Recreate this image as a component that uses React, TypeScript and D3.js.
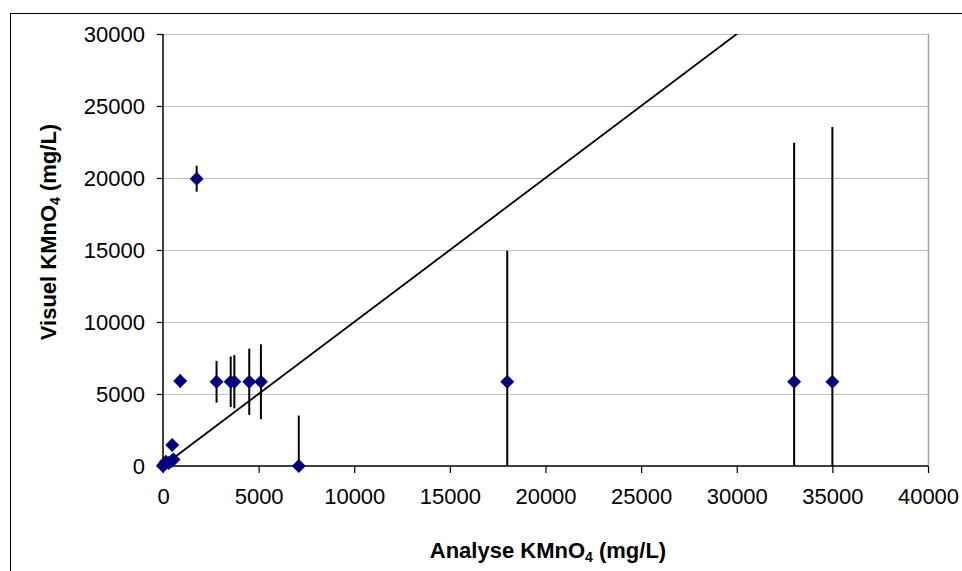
import React, { useEffect, useRef } from "react";
import * as d3 from "d3";

// Analyse (x) vs Visuel (y) KMnO4 values, with vertical error (± in mg/L)
const analyse = [0, 50, 150, 300, 450, 550, 480, 900, 1760, 2800, 3540, 3730, 4510, 5120, 7100, 18000, 33000, 35000];
const visuel = [0, 100, 300, 200, 350, 450, 1450, 5900, 19950, 5850, 5850, 5850, 5850, 5850, 0, 5850, 5850, 5850];
const erreur = [0, 0, 0, 0, 0, 0, 0, 450, 900, 1450, 1750, 1850, 2300, 2600, 3500, 9100, 16600, 17700];

const xTicks = [0, 5000, 10000, 15000, 20000, 25000, 30000, 35000, 40000];
const yTicks = [0, 5000, 10000, 15000, 20000, 25000, 30000];
const trend = [0, 40000]; // y = x

const App = () => {
  const ref = useRef<SVGSVGElement | null>(null);

  useEffect(() => {
    const width = 962;
    const height = 571;
    const margin = { top: 34, right: 34, bottom: 105, left: 163 };

    const svg = d3.select(ref.current);
    svg.selectAll("*").remove();

    const x = d3.scaleLinear().domain([0, 40000]).range([margin.left, width - margin.right]);
    const y = d3.scaleLinear().domain([0, 30000]).range([height - margin.bottom, margin.top]);

    // outer frame
    svg
      .append("rect")
      .attr("x", 10.5)
      .attr("y", 13.5)
      .attr("width", 960)
      .attr("height", 570)
      .attr("fill", "white")
      .attr("stroke", "black");

    svg
      .append("defs")
      .append("clipPath")
      .attr("id", "plot")
      .append("rect")
      .attr("x", margin.left)
      .attr("y", margin.top)
      .attr("width", x(40000) - margin.left)
      .attr("height", y(0) - margin.top);

    // gridlines
    svg
      .append("g")
      .selectAll("line")
      .data(yTicks.filter((d) => d > 0))
      .join("line")
      .attr("x1", margin.left)
      .attr("x2", x(40000))
      .attr("y1", (d) => Math.round(y(d)) + 0.5)
      .attr("y2", (d) => Math.round(y(d)) + 0.5)
      .attr("stroke", "#c0c0c0")
      .attr("stroke-width", 1);

    // right border of plot area
    svg
      .append("line")
      .attr("x1", Math.round(x(40000)) + 0.5)
      .attr("x2", Math.round(x(40000)) + 0.5)
      .attr("y1", margin.top)
      .attr("y2", y(0))
      .attr("stroke", "#a0a0a0")
      .attr("stroke-width", 1.5);

    const font = "'Liberation Sans', Arial, sans-serif";
    const fs = 22;

    // y axis
    const yAxis = svg
      .append("g")
      .attr("transform", `translate(${margin.left},0)`)
      .call(d3.axisLeft(y).tickValues(yTicks).tickSize(6).tickPadding(12).tickFormat((d) => `${d}`));
    yAxis.select(".domain").attr("stroke-width", 1.5).attr("d", `M0,${margin.top}V${y(0)}`);
    yAxis.selectAll(".tick line").attr("stroke-width", 1.2);
    yAxis.selectAll("text").attr("font-family", font).attr("font-size", fs).attr("fill", "black");

    // x axis
    const xAxis = svg
      .append("g")
      .attr("transform", `translate(0,${y(0)})`)
      .call(d3.axisBottom(x).tickValues(xTicks).tickSize(7).tickPadding(15).tickFormat((d) => `${d}`));
    xAxis.select(".domain").attr("stroke-width", 1.5).attr("d", `M${margin.left},0H${x(40000)}`);
    xAxis.selectAll(".tick line").attr("stroke-width", 1.2);
    xAxis.selectAll("text").attr("font-family", font).attr("font-size", fs).attr("fill", "black");

    const plot = svg.append("g").attr("clip-path", "url(#plot)");

    // trend line
    plot
      .append("line")
      .attr("x1", x(trend[0]))
      .attr("y1", y(trend[0]))
      .attr("x2", x(trend[1]))
      .attr("y2", y(trend[1]))
      .attr("stroke", "black")
      .attr("stroke-width", 1.8);

    const pts = analyse.map((a, i) => ({ a, v: visuel[i], e: erreur[i] }));

    // error bars
    plot
      .selectAll("line.err")
      .data(pts.filter((d) => d.e > 0))
      .join("line")
      .attr("class", "err")
      .attr("x1", (d) => x(d.a))
      .attr("x2", (d) => x(d.a))
      .attr("y1", (d) => y(d.v + d.e))
      .attr("y2", (d) => y(d.v - d.e))
      .attr("stroke", "black")
      .attr("stroke-width", 2);

    // diamonds
    const r = 7;
    svg
      .append("g")
      .selectAll("path")
      .data(pts)
      .join("path")
      .attr("transform", (d) => `translate(${x(d.a)},${y(d.v)})`)
      .attr("d", `M0,${-r}L${r},0L0,${r}L${-r},0Z`)
      .attr("fill", "#000080");

    // axis titles
    const xt = svg
      .append("text")
      .attr("x", 548)
      .attr("y", 558)
      .attr("text-anchor", "middle")
      .attr("font-family", font)
      .attr("font-size", fs)
      .attr("font-weight", "bold");
    xt.append("tspan").text("Analyse KMnO");
    xt.append("tspan").attr("font-size", 14).attr("dy", 4).text("4");
    xt.append("tspan").attr("dy", -4).text(" (mg/L)");

    const yt = svg
      .append("text")
      .attr("transform", `translate(56,232) rotate(-90)`)
      .attr("text-anchor", "middle")
      .attr("font-family", font)
      .attr("font-size", fs)
      .attr("font-weight", "bold");
    yt.append("tspan").text("Visuel KMnO");
    yt.append("tspan").attr("font-size", 14).attr("dy", 4).text("4");
    yt.append("tspan").attr("dy", -4).text(" (mg/L)");
  }, []);

  return (
    <svg
      ref={ref}
      width={962}
      height={571}
      style={{ position: "absolute", left: 0, top: 0, display: "block" }}
    />
  );
};

export default App;
